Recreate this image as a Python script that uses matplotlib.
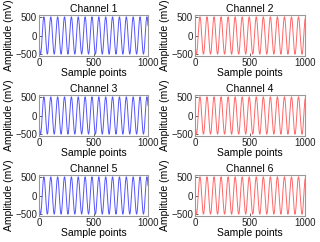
import matplotlib
matplotlib.use("Agg")
import matplotlib.pyplot as plt
import numpy as np

plt.rcParams["font.family"] = ["Liberation Sans", "DejaVu Sans"]

# signal parameters (one entry per channel)
channels = ["Channel 1", "Channel 2", "Channel 3", "Channel 4", "Channel 5", "Channel 6"]
amplitudes = [500, 500, 500, 500, 500, 500]  # mV
periods = [63, 64, 63, 64, 63, 64]  # samples per cycle
first_peak = [45, 45, 45, 45, 45, 45]  # sample index of first maximum
colors = ["#5555ff", "#ff6666", "#5555ff", "#ff6666", "#5555ff", "#ff6666"]
n_samples = 1000
x_ticks = [0, 500, 1000]
y_ticks = [-500, 0, 500]

# axes boxes in pixels (left, top, width, height) on a 320x242 canvas
W, H = 320, 242
col_left = [39, 195]
col_width = [109, 110]
row_top = [15, 95, 175]
row_height = 41


def main():
    fig = plt.figure(figsize=(W / 100, H / 100), dpi=100)
    n = np.arange(n_samples + 1)
    for i, name in enumerate(channels):
        r, c = divmod(i, 2)
        ax = fig.add_axes([
            col_left[c] / W,
            1 - (row_top[r] + row_height) / H,
            col_width[c] / W,
            row_height / H,
        ])
        y = amplitudes[i] * np.cos(2 * np.pi * (n - first_peak[i]) / periods[i])
        ax.plot(n, y, color=colors[i], lw=0.7)
        ax.set_xlim(0, n_samples)
        ax.set_ylim(-550, 550)
        ax.set_xticks(x_ticks)
        ax.set_yticks(y_ticks)
        ax.tick_params(direction="in", labelsize=7, length=2, width=0.5, pad=1.5,
                       colors="#222222")
        for s in ax.spines.values():
            s.set_color("#999999")
            s.set_linewidth(0.8)
        ax.set_title(name, fontsize=7.5, pad=2)
        ax.set_xlabel("Sample points", fontsize=7.5, labelpad=0)
        ax.set_ylabel("Amplitude (mV)", fontsize=7.5, labelpad=1)

    fig.savefig("out.png", dpi=100)


if __name__ == "__main__":
    main()
